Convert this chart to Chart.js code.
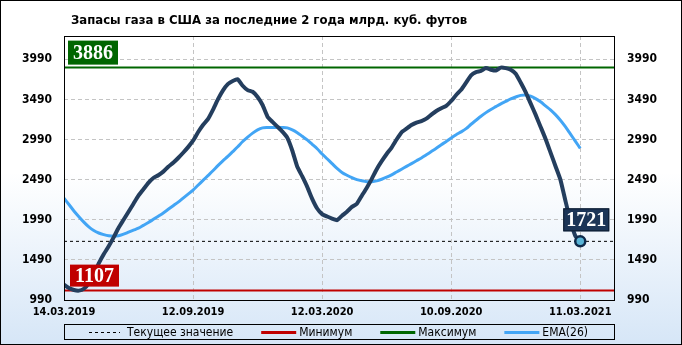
<!DOCTYPE html>
<html>
<head>
<meta charset="utf-8">
<script src="https://cdn.jsdelivr.net/npm/chart.js@4.4.0/dist/chart.umd.min.js"></script>
<style>
body { margin: 0; }
canvas { display: block; }
</style>
</head>
<body>
<canvas id="gasChart" width="682" height="345"></canvas>
<script>
// weekly data 14.03.2019 .. 11.03.2021
var dateLabels = ['14.03.2019', '12.09.2019', '12.03.2020', '10.09.2020', '11.03.2021'];
var yTicks = [990, 1490, 1990, 2490, 2990, 3490, 3990];
var gasStock = [
    1180, 1140, 1115, 1107, 1130, 1200, 1320, 1447, 1560, 1660,
    1770, 1890, 1990, 2090, 2190, 2290, 2370, 2450, 2510, 2545,
    2590, 2650, 2700, 2760, 2825, 2895, 2975, 3080, 3170, 3245,
    3360, 3490, 3600, 3680, 3720, 3740, 3660, 3605, 3585, 3520,
    3420, 3275, 3210, 3150, 3088, 3010, 2850, 2650, 2530, 2400,
    2250, 2130, 2060, 2030, 2005, 1985, 2040, 2090, 2150, 2190,
    2290, 2390, 2500, 2620, 2720, 2810, 2890, 2990, 3080, 3125,
    3170, 3200, 3220, 3250, 3300, 3345, 3380, 3410, 3470, 3545,
    3610, 3700, 3790, 3830, 3845, 3880, 3860, 3850, 3886, 3880,
    3860, 3810, 3700, 3580, 3440, 3300, 3150, 3000, 2830, 2660,
    2490, 2230, 1980, 1790, 1721
];
var ema26 = [
    2258, 2180, 2100, 2028, 1960, 1900, 1855, 1825, 1805, 1790,
    1785, 1790, 1810, 1835, 1860, 1885, 1920, 1955, 1995, 2035,
    2075, 2120, 2165, 2210, 2260, 2310, 2360, 2420, 2480, 2540,
    2600, 2665, 2725, 2780, 2840, 2900, 2965, 3020, 3070, 3110,
    3135, 3140, 3140, 3140, 3140, 3135, 3110, 3075, 3030, 2985,
    2930, 2875, 2810, 2750, 2690, 2630, 2580, 2545, 2515, 2490,
    2475, 2465, 2465, 2475, 2495, 2520, 2550, 2585, 2620, 2655,
    2690, 2725, 2760, 2800, 2840, 2880, 2925, 2965, 3010, 3050,
    3085, 3125, 3180, 3230, 3280, 3325, 3365, 3400, 3435, 3465,
    3495, 3520, 3540, 3545, 3530, 3500, 3460, 3410, 3360, 3300,
    3230, 3150, 3060, 2970, 2880
];
var minValue = 1107;
var maxValue = 3886;
var lastValue = 1721;
var legendNames = ['Текущее значение', 'Минимум', 'Максимум', 'EMA(26)'];

var X_MAX = 111;
var xTickFont = { family: 'DejaVu Sans Condensed', size: 11, weight: 'bold' };
var yTickFont = { family: 'DejaVu Sans Condensed', size: 12, weight: 'bold' };

function toPoints(arr) {
    return arr.map(function (v, i) { return { x: i, y: v }; });
}
function flat(v) {
    return [{ x: 0, y: v }, { x: X_MAX, y: v }];
}

var chartDecor = {
    id: 'chartDecor',
    beforeDraw: function (chart) {
        var ctx = chart.ctx;
        var g = ctx.createLinearGradient(0, 0, 0, chart.height);
        g.addColorStop(0, '#ffffff');
        g.addColorStop(0.5, '#ffffff');
        g.addColorStop(1, '#d6e6f7');
        ctx.save();
        ctx.fillStyle = g;
        ctx.fillRect(0, 0, chart.width, chart.height);
        ctx.restore();
    },
    afterDatasetsDraw: function (chart) {
        var ctx = chart.ctx, a = chart.chartArea;
        var y = chart.scales.y, x = chart.scales.x;
        ctx.save();
        // plot frame
        ctx.strokeStyle = '#000';
        ctx.lineWidth = 1;
        ctx.strokeRect(a.left + 0.5, a.top + 0.5, a.right - a.left - 1, a.bottom - a.top);

        function box(text, left, bottom, w, h, fill, border) {
            ctx.fillStyle = fill;
            ctx.fillRect(left, bottom - h, w, h);
            if (border) {
                ctx.strokeStyle = border;
                ctx.lineWidth = 1;
                ctx.strokeRect(left + 0.5, bottom - h + 0.5, w - 1, h - 1);
            }
            ctx.fillStyle = '#fff';
            ctx.font = 'bold 20px "Liberation Serif"';
            ctx.textAlign = 'center';
            ctx.textBaseline = 'middle';
            ctx.fillText(text, left + w / 2, bottom - h / 2 + 1);
        }
        box(String(maxValue), a.left + 4, y.getPixelForValue(maxValue) - 3, 50, 24, '#006600');
        box(String(minValue), a.left + 6, y.getPixelForValue(minValue) - 4, 49, 22, '#c00000');
        var px = x.getPixelForValue(gasStock.length - 1);
        box(String(lastValue), px - 17, y.getPixelForValue(lastValue) - 10, 46, 23, '#1c3557', '#0b1a2e');
        ctx.restore();
    },
    afterDraw: function (chart) {
        var ctx = chart.ctx, a = chart.chartArea;
        ctx.save();
        // title
        ctx.fillStyle = '#000';
        ctx.font = 'bold 13px "DejaVu Sans Condensed"';
        ctx.textAlign = 'left';
        ctx.textBaseline = 'middle';
        ctx.fillText('Запасы газа в США за последние 2 года млрд. куб. футов', 71, 21);

        // legend in a frame under the x axis
        var top = a.bottom + 24;
        ctx.strokeStyle = '#000';
        ctx.lineWidth = 1;
        ctx.strokeRect(a.left + 0.5, top + 0.5, a.right - a.left - 1, 15);
        var cy = top + 8;
        var lx = 89;
        ctx.font = '12px "DejaVu Sans Condensed"';
        legendNames.forEach(function (name, i) {
            var ds = chart.data.datasets[i];
            var len = i === 0 ? 31 : 35;
            var gap = i === 0 ? 7 : 3;
            ctx.beginPath();
            ctx.strokeStyle = ds.borderColor;
            ctx.lineWidth = i === 0 ? 1 : 3;
            ctx.setLineDash(i === 0 ? [3, 3] : []);
            ctx.moveTo(lx, cy + 0.5);
            ctx.lineTo(lx + len, cy + 0.5);
            ctx.stroke();
            ctx.setLineDash([]);
            ctx.fillStyle = '#000';
            ctx.fillText(name, lx + len + gap, cy + 1);
            lx += len + gap + ctx.measureText(name).width + 28;
        });

        // outer border
        ctx.strokeStyle = '#000';
        ctx.lineWidth = 1;
        ctx.strokeRect(0.5, 0.5, chart.width - 1, chart.height - 1);
        ctx.restore();
    }
};

var ctx = document.getElementById('gasChart').getContext('2d');
var gasChart = new Chart(ctx, {
    type: 'line',
    data: {
        datasets: [{
            label: legendNames[0],
            data: flat(lastValue),
            borderColor: '#000',
            borderWidth: 1,
            borderDash: [3, 3],
            pointRadius: 0,
            order: 4
        }, {
            label: legendNames[1],
            data: flat(minValue),
            borderColor: '#c00000',
            borderWidth: 2,
            pointRadius: 0,
            order: 3
        }, {
            label: legendNames[2],
            data: flat(maxValue),
            borderColor: '#006600',
            borderWidth: 2,
            pointRadius: 0,
            order: 2
        }, {
            label: legendNames[3],
            data: toPoints(ema26),
            borderColor: '#42a5f5',
            borderWidth: 3,
            pointRadius: 0,
            tension: 0.3,
            order: 1
        }, {
            label: 'Запасы',
            data: toPoints(gasStock),
            borderColor: '#243e5e',
            borderWidth: 4,
            borderJoinStyle: 'round',
            tension: 0.15,
            pointRadius: function (c) { return c.dataIndex === gasStock.length - 1 ? 5 : 0; },
            pointBackgroundColor: '#5ab4d6',
            pointBorderColor: '#0f2a4a',
            pointBorderWidth: 2.5,
            order: 0
        }]
    },
    options: {
        responsive: false,
        animation: false,
        layout: { padding: { top: 36, bottom: 23 } },
        scales: {
            x: {
                type: 'linear',
                min: 0,
                max: X_MAX,
                afterBuildTicks: function (s) {
                    s.ticks = dateLabels.map(function (d, i) { return { value: i * 26 }; });
                },
                afterFit: function (s) { s.height = 22; },
                ticks: {
                    color: '#000',
                    font: xTickFont,
                    padding: 6,
                    maxRotation: 0,
                    autoSkip: false,
                    callback: function (v) { return dateLabels[v / 26]; }
                },
                grid: { color: '#c4c4c4', drawTicks: false },
                border: { display: false, dash: [4, 3] }
            },
            y: {
                position: 'left',
                min: 990,
                max: 4280,
                afterBuildTicks: function (s) {
                    s.ticks = yTicks.map(function (v) { return { value: v }; });
                },
                afterFit: function (s) { s.width = 64; },
                ticks: { color: '#000', font: yTickFont, padding: 12, callback: function (v) { return String(v); } },
                grid: { color: '#c4c4c4', drawTicks: false },
                border: { display: false, dash: [4, 3] }
            },
            y2: {
                position: 'right',
                min: 990,
                max: 4280,
                afterBuildTicks: function (s) {
                    s.ticks = yTicks.map(function (v) { return { value: v }; });
                },
                afterFit: function (s) { s.width = 67; },
                ticks: { color: '#000', font: yTickFont, padding: 12, callback: function (v) { return String(v); } },
                grid: { display: false, drawTicks: false },
                border: { display: false }
            }
        },
        plugins: {
            tooltip: { enabled: false },
            legend: { display: false }
        }
    },
    plugins: [chartDecor]
});
</script>
</body>
</html>
